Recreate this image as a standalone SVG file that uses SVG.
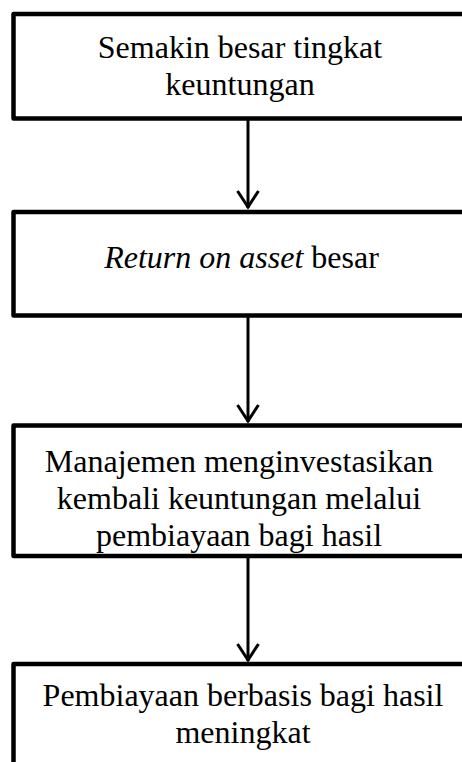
<svg xmlns="http://www.w3.org/2000/svg" width="462" height="762" viewBox="0 0 462 762">
<defs>
<style>
.box{fill:#fff;stroke:#000;stroke-width:4.5;stroke-linejoin:round}
.t{font-family:"Liberation Serif","Times New Roman",serif;font-size:32px;fill:#000;text-anchor:middle}
.c{fill:none;stroke:#000;stroke-width:3}
</style>
</defs>
<rect width="462" height="762" fill="#fff"/>
<g id="connectors">
<line class="c" x1="248" y1="120" x2="248" y2="208"/>
<path class="c" d="M237.5,191 L248,207 L258.5,191"/>
<line class="c" x1="248" y1="317" x2="248" y2="422"/>
<path class="c" d="M237.5,405 L248,421 L258.5,405"/>
<line class="c" x1="248" y1="557" x2="248" y2="661"/>
<path class="c" d="M237.5,644 L248,660 L258.5,644"/>
</g>
<g id="n1">
<rect class="box" x="13.5" y="14" width="470" height="104.5"/>
<text class="t" x="240" y="58">Semakin besar tingkat</text>
<text class="t" x="240" y="95">keuntungan</text>
</g>
<g id="n2">
<rect class="box" x="13.5" y="212" width="470" height="103.5"/>
<text class="t" x="241.5" y="268"><tspan font-style="italic">Return on asset</tspan> besar</text>
</g>
<g id="n3">
<rect class="box" x="13.5" y="425.5" width="470" height="130.5"/>
<text class="t" x="239" y="472">Manajemen menginvestasikan</text>
<text class="t" x="239" y="509">kembali keuntungan melalui</text>
<text class="t" x="239" y="546">pembiayaan bagi hasil</text>
</g>
<g id="n4">
<rect class="box" x="13.5" y="664" width="470" height="120"/>
<text class="t" x="243" y="706">Pembiayaan berbasis bagi hasil</text>
<text class="t" x="243" y="743">meningkat</text>
</g>
</svg>
